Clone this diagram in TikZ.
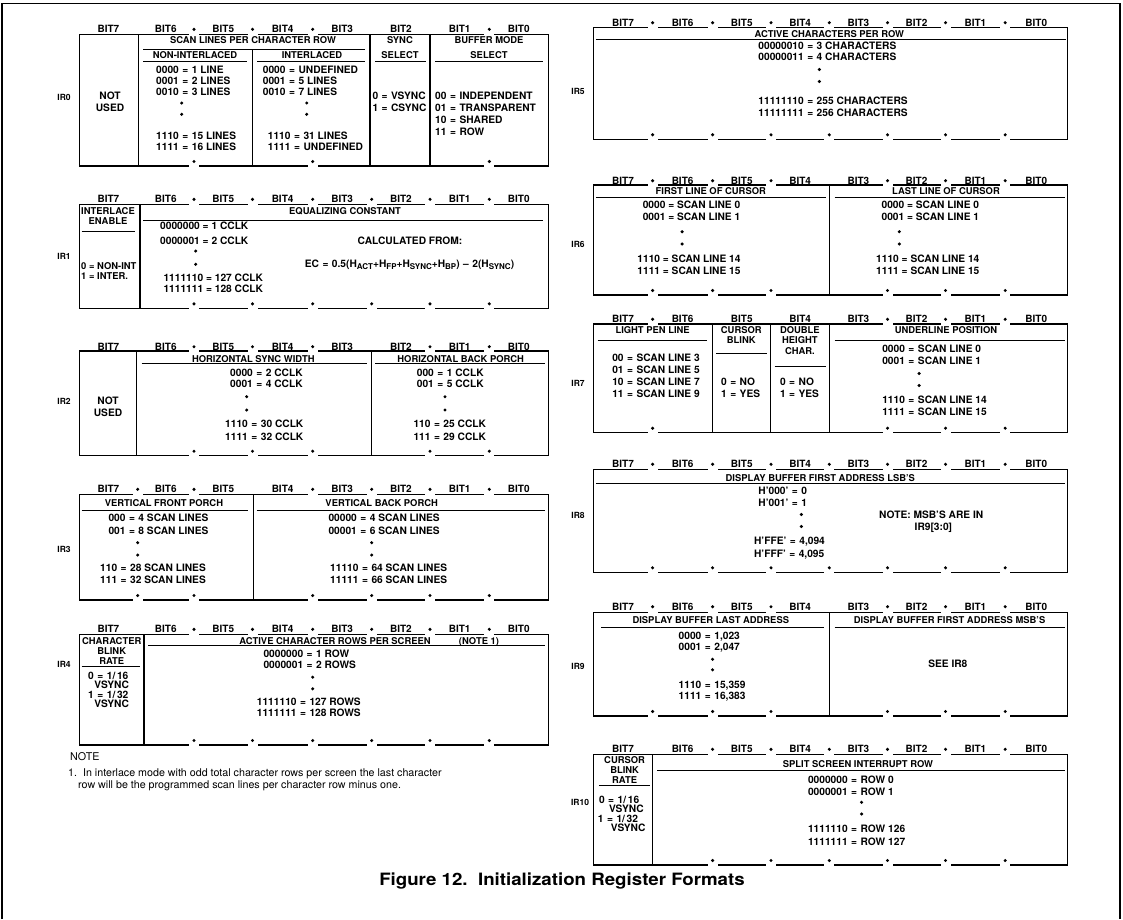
\documentclass[tikz,border=0pt]{standalone}
\usepackage{fontspec}
\setmainfont{TeX Gyre Heros}
\newfontfamily\titlefont[FakeStretch=1.1]{TeX Gyre Heros}
\newcommand\eq{\hspace{3.5pt}=\hspace{3.5pt}}
\newcommand\myC[3]{\node[hdr,anchor=base] at (#1,#2+3.4) {#3};}
\newcommand\myE[3]{\node[ent,anchor=base] at (#1,#2+3.65) {#3};}
\newcommand\myL[3]{\node[ent,anchor=base west] at (#1,#2+3.65) {#3};}
\newcommand\myIR[3]{\node[irl,anchor=base] at (#1,#2+3.05) {#3};}
\newcommand\myD[2]{\fill (#1,#2) circle (1.7);}
\newcommand\myU[3]{\draw[ulin] (#1,#3) -- (#2,#3);}
\newcommand\myV[3]{\draw[boxl] (#1,#2) -- (#1,#3);}
\newcommand\regbox[7]{%
  \draw[boxl] (#1,#3) rectangle (#2,#4);
  \foreach \g in {#6}{\fill[white] (\g-5,#3-1.6) rectangle (\g+5,#3+1.6); \fill (\g,#5) circle (1.7);}
  \foreach \g in {#7}{\fill[white] (\g-5,#4-1.6) rectangle (\g+5,#4+1.6); \fill (\g,#4-4.5) circle (1.7);}
}
\newcommand\bitsL[1]{\foreach \n/\x in {7/108.4,6/165.8,5/223.3,4/282.6,3/342.2,2/400.9,1/459.7,0/518.8}{\node[bitl,anchor=base] at (\x,#1+3.6) {BIT\n};}}
\newcommand\bitsR[1]{\foreach \n/\x in {7/623,6/682.6,5/741.8,4/800.2,3/858.4,2/916.5,1/975.4,0/1036.3}{\node[bitl,anchor=base] at (\x,#1+3.6) {BIT\n};}}
\newcommand\sub[1]{\raisebox{-1.7pt}{\fontsize{8}{8}\selectfont #1}}
\begin{document}
\begin{tikzpicture}[x=1pt,y=-1pt,
  every node/.style={inner sep=0pt},
  hdr/.style={font=\bfseries\fontsize{9.4}{10}\selectfont},
  ent/.style={font=\bfseries\fontsize{10.2}{11}\selectfont},
  bitl/.style={font=\bfseries\fontsize{10}{11}\selectfont},
  irl/.style={font=\bfseries\fontsize{8.5}{10}\selectfont},
  notet/.style={font=\mdseries\fontsize{10.7}{12}\selectfont},
  boxl/.style={line width=1.2pt},
  ulin/.style={line width=0.9pt}]
\useasboundingbox (0,0) rectangle (1123,919);
\draw[line width=1.6pt] (2,919) -- (2,3.5) -- (1120,3.5) -- (1120,919);

% ---------------- IR0
\bitsL{29.3}
\regbox{79.3}{548.3}{34.3}{166}{29.3}{194,252.5,312.7,489.3}{194,312.7,489.3}
\myV{138.3}{34.3}{166} \myV{252.3}{49.8}{166} \myV{370}{34.3}{166} \myV{430}{34.3}{166}
\myIR{64}{97}{IR0}
\myE{110}{95.7}{NOT} \myE{110}{107.7}{USED}
\myC{253}{40.5}{SCAN LINES PER CHARACTER ROW} \myU{143}{365}{49.8}
\myC{195}{54.8}{NON-INTERLACED} \myU{143}{247}{61.3}
\myC{312}{54.8}{INTERLACED} \myU{257}{365}{61.3}
\myC{400}{40.5}{SYNC} \myC{400}{54.8}{SELECT} \myU{375}{426}{61.3}
\myC{489}{40.5}{BUFFER MODE} \myC{489}{54.8}{SELECT} \myU{435}{543}{61.3}
\myL{156}{69.5}{0000\eq 1 LINE} \myL{156}{80.5}{0001\eq 2 LINES} \myL{156}{91.5}{0010\eq 3 LINES}
\myD{181.7}{103} \myD{181.7}{114.3}
\myL{156}{136}{1110\eq 15 LINES} \myL{156}{147.3}{1111\eq 16 LINES}
\myL{262.7}{69.5}{0000\eq UNDEFINED} \myL{262.7}{80.5}{0001\eq 5 LINES} \myL{262.7}{91.5}{0010\eq 7 LINES}
\myD{306.7}{103} \myD{306.7}{114.3}
\myL{267.7}{136}{1110\eq 31 LINES} \myL{267.7}{147.3}{1111\eq UNDEFINED}
\myL{372.3}{95.7}{0\eq VSYNC} \myL{372.3}{107.7}{1\eq CSYNC}
\myL{435}{95.7}{00\eq INDEPENDENT} \myL{435}{107.7}{01\eq TRANSPARENT}
\myL{435}{120}{10\eq SHARED} \myL{435}{131.7}{11\eq ROW}

% ---------------- IR1
\bitsL{199.3}
\regbox{79.3}{548.3}{204.3}{308.3}{199.3}{194,252.5,312.7,371.7,430,489.3}{194,252.5,312.7,371.7,430,489.3}
\myV{140}{204.3}{308.3}
\myIR{64}{256}{IR1}
\myC{108}{210.6}{INTERLACE} \myC{108}{221}{ENABLE} \myU{81.7}{135}{231}
\node[hdr,anchor=base west] at (81,269.1) {0 = NON-INT};
\node[hdr,anchor=base west] at (81,279.4) {1 = INTER.};
\myC{345}{210.6}{EQUALIZING CONSTANT} \myU{143.3}{543.3}{220.3}
\myL{160}{225.8}{0000000 = 1 CCLK} \myL{160}{241}{0000001 = 2 CCLK}
\myD{195.7}{251} \myD{195.7}{264.3}
\myL{163.3}{277.7}{1111110 = 127 CCLK} \myL{163.3}{289}{1111111 = 128 CCLK}
\myE{410}{241}{CALCULATED FROM:}
\myE{409.5}{264.3}{EC\eq 0.5(H\sub{ACT}+H\sub{FP}+H\sub{SYNC}+H\sub{BP})\hspace{3.5pt}--\hspace{3.5pt}2(H\sub{SYNC})}

% ---------------- IR2
\bitsL{346.7}
\regbox{79.3}{548.3}{351}{455.7}{346.7}{194,252.5,312.7,430,489.3}{194,252.5,312.7,430,489.3}
\myV{136.7}{351}{455.7} \myV{371.7}{351}{455.7}
\myIR{64}{401.7}{IR2}
\myE{108}{401}{NOT} \myE{108}{413}{USED}
\myC{253.3}{358.6}{HORIZONTAL SYNC WIDTH} \myU{141.7}{366.7}{363.8}
\myC{460.7}{358.6}{HORIZONTAL BACK PORCH} \myU{375}{545}{363.8}
\myL{230}{372.5}{0000\eq 2 CCLK} \myL{230}{384.3}{0001\eq 4 CCLK}
\myD{246.7}{396.7} \myD{246.7}{410}
\myL{225}{424.3}{1110\eq 30 CCLK} \myL{225}{436.7}{1111\eq 32 CCLK}
\myL{416.7}{372.5}{000\eq 1 CCLK} \myL{416.7}{384.3}{001\eq 5 CCLK}
\myD{445}{396.7} \myD{445}{410}
\myL{413.3}{424.3}{110\eq 25 CCLK} \myL{413.3}{436.7}{111\eq 29 CCLK}

% ---------------- IR3
\bitsL{489.3}
\regbox{79.3}{548.3}{494.3}{600}{489.3}{137.7,194,312.7,371.7,430,489.3}{137.7,194,312.7,371.7,430,489.3}
\myV{253.3}{494.3}{600}
\myIR{64}{549.3}{IR3}
\myC{164}{503.3}{VERTICAL FRONT PORCH} \myU{81.7}{248.3}{510}
\myC{381.7}{503.3}{VERTICAL BACK PORCH} \myU{256.7}{545}{510}
\myL{108.3}{518.3}{000\eq 4 SCAN LINES} \myL{108.3}{530.7}{001\eq 8 SCAN LINES}
\myD{137.7}{542.7} \myD{137.7}{555}
\myL{100}{567.7}{110\eq 28 SCAN LINES} \myL{100}{580}{111\eq 32 SCAN LINES}
\myL{328.3}{518.3}{00000\eq 4 SCAN LINES} \myL{328.3}{530.7}{00001\eq 6 SCAN LINES}
\myD{371.7}{542.7} \myD{371.7}{555}
\myL{330}{567.7}{11110\eq 64 SCAN LINES} \myL{330}{580}{11111\eq 66 SCAN LINES}

% ---------------- IR4
\bitsL{629.3}
\regbox{79.3}{548.3}{634.3}{745}{629.3}{194,252.5,312.7,371.7,430,489.3}{194,252.5,312.7,371.7,430,489.3}
\myV{144}{634.3}{745}
\myIR{64}{664.3}{IR4}
\myC{111.7}{640.6}{CHARACTER} \myC{111.7}{650.6}{BLINK} \myC{111.7}{660.6}{RATE} \myU{81.7}{140}{666}
\myE{108.3}{676}{0\eq 1/\,16} \myE{111.7}{685.3}{VSYNC} \myE{108.3}{695}{1\eq 1/\,32} \myE{111.7}{704.3}{VSYNC}
\myC{335}{640.6}{ACTIVE CHARACTER ROWS PER SCREEN} \myC{479}{640.6}{(NOTE 1)}
\myU{148.3}{545}{645.5}
\myL{263.3}{654.3}{0000000\eq 1 ROW} \myL{263.3}{665.3}{0000001\eq 2 ROWS}
\myD{312.7}{677.2} \myD{312.7}{688.8}
\myL{256.7}{701.7}{1111110\eq 127 ROWS} \myL{256.7}{713.3}{1111111\eq 128 ROWS}

% ---------------- note
\node[notet,anchor=base west] at (70,760.8) {NOTE};
\node[notet,anchor=base west] at (68,776.8) {1.\ \ In interlace mode with odd total character rows per screen the last character};
\node[notet,anchor=base west] at (78,788.8) {row will be the programmed scan lines per character row minus one.};

% ---------------- IR5
\bitsR{22.7}
\regbox{593.4}{1067.4}{27.7}{139.3}{22.7}{652.6,712.6,771,829.3,887.5,945.5,1005.2}{652.6,712.6,771,829.3,887.5,945.5,1005.2}
\myIR{578}{91}{IR5}
\myC{829.3}{33.8}{ACTIVE CHARACTERS PER ROW} \myU{595.9}{1065.6}{39.3}
\myL{758.2}{45.5}{00000010\eq 3 CHARACTERS} \myL{758.2}{57.3}{00000011\eq 4 CHARACTERS}
\myD{819.3}{69.5} \myD{819.3}{81.5}
\myL{758.2}{101}{11111110\eq 255 CHARACTERS} \myL{758.2}{113}{11111111\eq 256 CHARACTERS}

% ---------------- IR6
\bitsR{180.7}
\regbox{593.4}{1067.4}{185}{295}{180.7}{652.6,712.6,771,887.5,945.5,1005.2}{652.6,712.6,771,887.5,945.5,1005.2}
\myV{829.3}{185}{295}
\myIR{578}{244.3}{IR6}
\myC{710.8}{191.3}{FIRST LINE OF CURSOR} \myU{595.9}{825.7}{197}
\myC{946}{191.3}{LAST LINE OF CURSOR} \myU{834.7}{1064.5}{197}
\myL{642.6}{205}{0000 = SCAN LINE 0} \myL{642.6}{217}{0001 = SCAN LINE 1}
\myD{682.1}{231.7} \myD{682.1}{244}
\myL{637.2}{259.3}{1110 = SCAN LINE 14} \myL{637.2}{271}{1111 = SCAN LINE 15}
\myL{881.4}{205}{0000 = SCAN LINE 0} \myL{881.4}{217}{0001 = SCAN LINE 1}
\myD{899.3}{231.7} \myD{899.3}{244}
\myL{876}{259.3}{1110 = SCAN LINE 14} \myL{876}{271}{1111 = SCAN LINE 15}

% ---------------- IR7
\bitsR{319.3}
\regbox{593.4}{1067.4}{324}{432.7}{319.3}{652.6,887.5,945.5,1005.2}{652.6,887.5,945.5,1005.2}
\myV{712.6}{324}{432.7} \myV{770.8}{324}{432.7} \myV{829.3}{324}{432.7}
\myIR{578}{383}{IR7}
\myC{652.6}{330}{LIGHT PEN LINE} \myU{597.7}{707.2}{340.5}
\myC{741.3}{330}{CURSOR} \myC{741.3}{340.4}{BLINK} \myU{716.2}{766.5}{353}
\myC{799.9}{330}{DOUBLE} \myC{799.9}{340.4}{HEIGHT} \myC{799.9}{350.8}{CHAR.} \myU{774.7}{825.7}{366}
\myC{946}{330}{UNDERLINE POSITION} \myU{834.7}{1064.5}{340.5}
\myL{612.1}{358}{00\eq SCAN LINE 3} \myL{612.1}{370}{01\eq SCAN LINE 5}
\myL{612.1}{382}{10\eq SCAN LINE 7} \myL{612.1}{394}{11\eq SCAN LINE 9}
\myL{720.9}{382}{0\eq NO} \myL{720.9}{394}{1\eq YES}
\myL{779.8}{382}{0\eq NO} \myL{779.8}{394}{1\eq YES}
\myL{882.1}{349}{0000\eq SCAN LINE 0} \myL{882.1}{361}{0001\eq SCAN LINE 1}
\myD{919.1}{373.5} \myD{919.1}{385.5}
\myL{882.1}{400}{1110\eq SCAN LINE 14} \myL{882.1}{412}{1111\eq SCAN LINE 15}

% ---------------- IR8
\bitsR{464.3}
\regbox{593.4}{1067.4}{469.3}{572.3}{464.3}{652.6,712.6,771,829.3,887.5,945.5,1005.2}{652.6,712.6,771,829.3,887.5,945.5,1005.2}
\myIR{578}{515}{IR8}
\myC{820.3}{477.8}{DISPLAY BUFFER FIRST ADDRESS LSB’S} \myU{595.9}{1064.5}{483.3}
\myL{758.2}{491}{H’000’\eq 0} \myL{758.2}{502.5}{H’001’\eq 1}
\myD{801.3}{514.5} \myD{801.3}{526.5}
\myL{753.9}{541}{H’FFE’\eq 4,094} \myL{753.9}{553.5}{H’FFF’\eq 4,095}
\myL{878.9}{514.5}{NOTE: MSB’S ARE IN} \myE{933.4}{527}{IR9[3:0]}

% ---------------- IR9
\bitsR{606.7}
\regbox{593.4}{1067.4}{612.7}{716}{606.7}{652.6,712.6,771,887.5,945.5,1005.2}{652.6,712.6,771,887.5,945.5,1005.2}
\myV{829.3}{612.7}{716}
\myIR{578}{666}{IR9}
\myC{710.8}{620.5}{DISPLAY BUFFER LAST ADDRESS} \myU{601.3}{823.9}{627}
\myC{949.6}{620.5}{DISPLAY BUFFER FIRST ADDRESS MSB’S} \myU{834.7}{1064.5}{627}
\myL{678.5}{635.5}{0000\eq 1,023} \myL{678.5}{647}{0001\eq 2,047}
\myD{712.6}{659.3} \myD{712.6}{669.8}
\myL{678.5}{684.5}{1110\eq 15,359} \myL{678.5}{696}{1111\eq 16,383}
\myE{947.8}{663.5}{SEE IR8}

% ---------------- IR10
\bitsR{749.3}
\regbox{593.4}{1067.4}{754.3}{865}{749.3}{712.6,771,829.3,887.5,945.5,1005.2}{712.6,771,829.3,887.5,945.5,1005.2}
\myV{652.6}{754.3}{865}
\myIR{580}{802.7}{IR10}
\myC{624.6}{760.5}{CURSOR} \myC{624.6}{770.5}{BLINK} \myC{624.6}{780.5}{RATE} \myU{598.8}{649.8}{785.5}
\myL{598.8}{799.8}{0\eq 1/\,16} \myE{626.4}{809}{VSYNC} \myL{597.7}{818.5}{1\eq 1/\,32} \myE{628.2}{827.5}{VSYNC}
\myC{858}{764.3}{SPLIT SCREEN INTERRUPT ROW} \myU{657}{1064.5}{770.3}
\myL{807.8}{780.3}{0000000\eq ROW 0} \myL{807.8}{791.7}{0000001\eq ROW 1}
\myD{861.6}{802.3} \myD{861.6}{814}
\myL{807.8}{829.3}{1111110\eq ROW 126} \myL{807.8}{841.7}{1111111\eq ROW 127}

% ---------------- title
\node[anchor=base,font=\titlefont\bfseries\fontsize{17}{20}\selectfont] (title) at (562,885) {Figure 12.\ \ Initialization Register Formats};
\end{tikzpicture}
\end{document}
